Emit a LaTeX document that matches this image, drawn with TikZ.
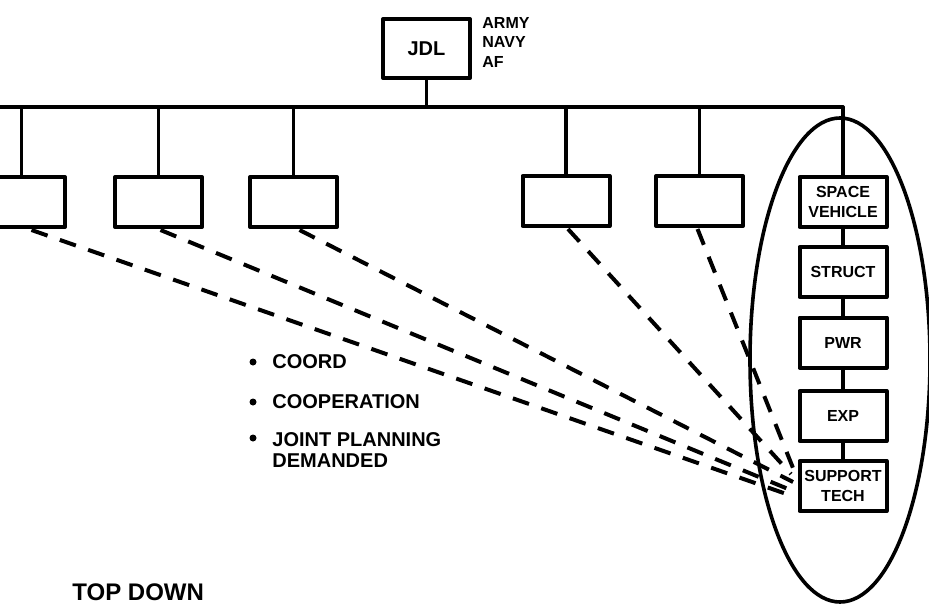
\documentclass[tikz,border=0pt]{standalone}
\usepackage{fontspec}
\setmainfont{Liberation Sans}
\usetikzlibrary{
    arrows.meta,
    calc,
    positioning,
    shapes.geometric
}

\begin{document}
\begin{tikzpicture}[x=0.5pt, y=-0.5pt, line cap=round, line join=round]
  \def\bw{43.5pt}   % box width
  \def\bh{25pt}     % box height
  \def\ybus{107}    % level of the bus line

  \tikzset{
    unit/.style={draw, line width=2pt, minimum width=\bw, minimum height=\bh,
      inner sep=0pt, align=center, font=\bfseries\fontsize{8}{10}\selectfont},
    wire/.style={line width=1.6pt},
    link/.style={line width=2pt, line cap=butt, dash pattern=on 8.5pt off 6.5pt},
    dot/.style={circle, fill, inner sep=0pt, minimum size=3.5pt},
    item/.style={anchor=base west, inner sep=0pt,
      font=\bfseries\fontsize{10}{10.5}\selectfont}
  }

  \useasboundingbox (0,0) rectangle (929,604);

  % JDL
  \node[unit, minimum height=29.5pt, font=\bfseries\fontsize{10}{12}\selectfont]
    (JDL) at (426.5,48.5) {JDL};
  \node[anchor=north west, inner sep=0pt, align=left,
    font=\bfseries\fontsize{8}{9.75}\selectfont] (svc) at (482,17) {ARMY\\NAVY\\AF};

  % Bus
  \coordinate (busL) at (0,\ybus);
  \coordinate (busR) at (843,\ybus);
  \draw[wire] (busL) -- (busR);
  \draw[wire] (JDL.south) -- (JDL.south |- busL);

  % Empty boxes
  \node[unit] (B1) at (21.5,202) {};
  \node[unit] (B2) at (158.5,202) {};
  \node[unit] (B3) at (293.5,202) {};
  \node[unit] (B4) at (566,201) {};
  \node[unit] (B5) at (699.5,201) {};
  \foreach \b in {B1,B2,B3,B4,B5}
    \draw[wire] (\b.north) -- (\b.north |- busL);

  % Right column
  \node[unit] (SV) at (843,202) {SPACE\\VEHICLE};
  \node[unit] (ST) at (843,272) {STRUCT};
  \node[unit] (PW) at (843,342.5) {PWR};
  \node[unit] (EX) at (843,416) {EXP};
  \node[unit] (SP) at (843,486) {SUPPORT\\TECH};
  \draw[wire] (SV.north) -- (SV.north |- busL);
  \draw[wire] (SV) -- (ST);
  \draw[wire] (ST) -- (PW);
  \draw[wire] (PW) -- (EX);
  \draw[wire] (EX) -- (SP);

  \node[draw, ellipse, line width=1.8pt, inner sep=0pt,
    minimum width=90pt, minimum height=242pt] (grp) at (840,360) {};

  % Dashed links to SUPPORT TECH
  \coordinate (e1) at ($(SP.west)+(-2.5,11)$);
  \coordinate (e2) at ($(SP.west)+(-4.5,5)$);
  \coordinate (e3) at ($(SP.west)+(-4.5,-4)$);
  \coordinate (e4) at ($(SP.west)+(-6.5,-12)$);
  \coordinate (e5) at ($(SP.west)+(-4.5,-18)$);
  \draw[link] ($(B1.south)+(10,1)$) -- (e1);
  \draw[link] ($(B2.south)+(2,1)$) -- (e2);
  \draw[link] ($(B3.south)+(6,1)$) -- (e3);
  \draw[link] ($(B4.south)+(2,1)$) -- (e4);
  \draw[link] ($(B5.south)+(-2,1)$) -- (e5);

  % Bullets
  \node[dot] (d1) at (253,362) {};
  \node[item] (coord) at (272,368) {COORD};
  \node[dot] (d2) at (253,402) {};
  \node[item] (coop) at (272,408) {COOPERATION};
  \node[dot] (d3) at (253,438) {};
  \node[item, anchor=north west, align=left] (joint) at (272,432)
    {JOINT PLANNING\\DEMANDED};

  \node[anchor=base west, inner sep=0pt, font=\bfseries\fontsize{12}{14}\selectfont]
    (top) at (72,600) {TOP DOWN};
\end{tikzpicture}
\end{document}
